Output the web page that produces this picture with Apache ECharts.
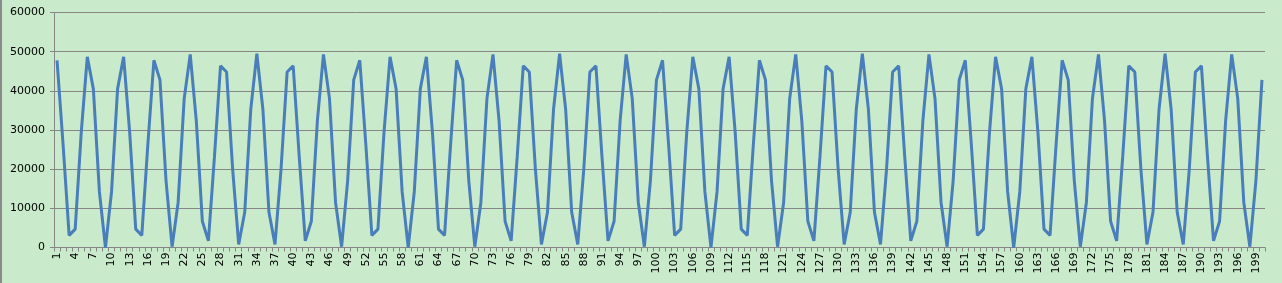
<!DOCTYPE html>
<html>
<head>
<meta charset="utf-8">
<script src="https://cdn.jsdelivr.net/npm/echarts@6/dist/echarts.min.js"></script>
<style>
html,body{margin:0;padding:0;background:#C9EBCC;}
#c{width:1282px;height:283px;box-sizing:border-box;border-left:2px solid #8a8a8a;}
</style>
</head>
<body>
<div id="c"></div>
<script>
const categories = [];
for (let i = 1; i <= 200; i++) categories.push(String(i));

const values = [
47800, 26300, 3100, 4700, 29400, 48700, 40500, 14200, 0, 14200,
40500, 48700, 29400, 4700, 3100, 26300, 47800, 42800, 17100, 200,
11500, 38000, 49300, 32400, 6700, 1700, 23200, 46400, 44800, 20100,
800, 9000, 35300, 49500, 35300, 9000, 800, 20100, 44800, 46400,
23200, 1700, 6700, 32400, 49300, 38000, 11500, 200, 17100, 42800,
47800, 26300, 3100, 4700, 29400, 48700, 40500, 14200, 0, 14200,
40500, 48700, 29400, 4700, 3100, 26300, 47800, 42800, 17100, 200,
11500, 38000, 49300, 32400, 6700, 1700, 23200, 46400, 44800, 20100,
800, 9000, 35300, 49500, 35300, 9000, 800, 20100, 44800, 46400,
23200, 1700, 6700, 32400, 49300, 38000, 11500, 200, 17100, 42800,
47800, 26300, 3100, 4700, 29400, 48700, 40500, 14200, 0, 14200,
40500, 48700, 29400, 4700, 3100, 26300, 47800, 42800, 17100, 200,
11500, 38000, 49300, 32400, 6700, 1700, 23200, 46400, 44800, 20100,
800, 9000, 35300, 49500, 35300, 9000, 800, 20100, 44800, 46400,
23200, 1700, 6700, 32400, 49300, 38000, 11500, 200, 17100, 42800,
47800, 26300, 3100, 4700, 29400, 48700, 40500, 14200, 0, 14200,
40500, 48700, 29400, 4700, 3100, 26300, 47800, 42800, 17100, 200,
11500, 38000, 49300, 32400, 6700, 1700, 23200, 46400, 44800, 20100,
800, 9000, 35300, 49500, 35300, 9000, 800, 20100, 44800, 46400,
23200, 1700, 6700, 32400, 49300, 38000, 11500, 200, 17100, 42800
];

const yMin = 0, yMax = 60000, yStep = 10000;

const chart = echarts.init(document.getElementById('c'), null, {renderer: 'canvas'});
chart.setOption({
  animation: false,
  backgroundColor: '#C9EBCC',
  grid: {left: 52, right: 17, top: 12.5, bottom: 35.5, containLabel: false},
  xAxis: {
    type: 'category',
    data: categories,
    boundaryGap: true,
    axisLine: {show: true, lineStyle: {color: '#868686', width: 1}},
    axisTick: {show: true, interval: 0, length: 4, inside: false, lineStyle: {color: '#868686'}},
    axisLabel: {
      interval: 2, rotate: 90, margin: 5,
      fontFamily: 'DejaVu Sans', fontSize: 11, color: '#000'
    },
    splitLine: {show: false}
  },
  yAxis: {
    type: 'value',
    min: yMin, max: yMax, interval: yStep,
    axisLine: {show: true, lineStyle: {color: '#868686', width: 1}},
    axisTick: {show: true, length: 4, lineStyle: {color: '#868686'}},
    axisLabel: {
      margin: 9, fontFamily: 'DejaVu Sans', fontSize: 11, color: '#000',
      formatter: function (v) { return String(v); }
    },
    splitLine: {show: true, lineStyle: {color: '#868686', width: 1}}
  },
  series: [{
    type: 'line',
    data: values,
    showSymbol: false,
    symbol: 'none',
    lineStyle: {color: '#4A7EBB', width: 3},
    itemStyle: {color: '#4A7EBB'}
  }]
});
</script>
</body>
</html>
